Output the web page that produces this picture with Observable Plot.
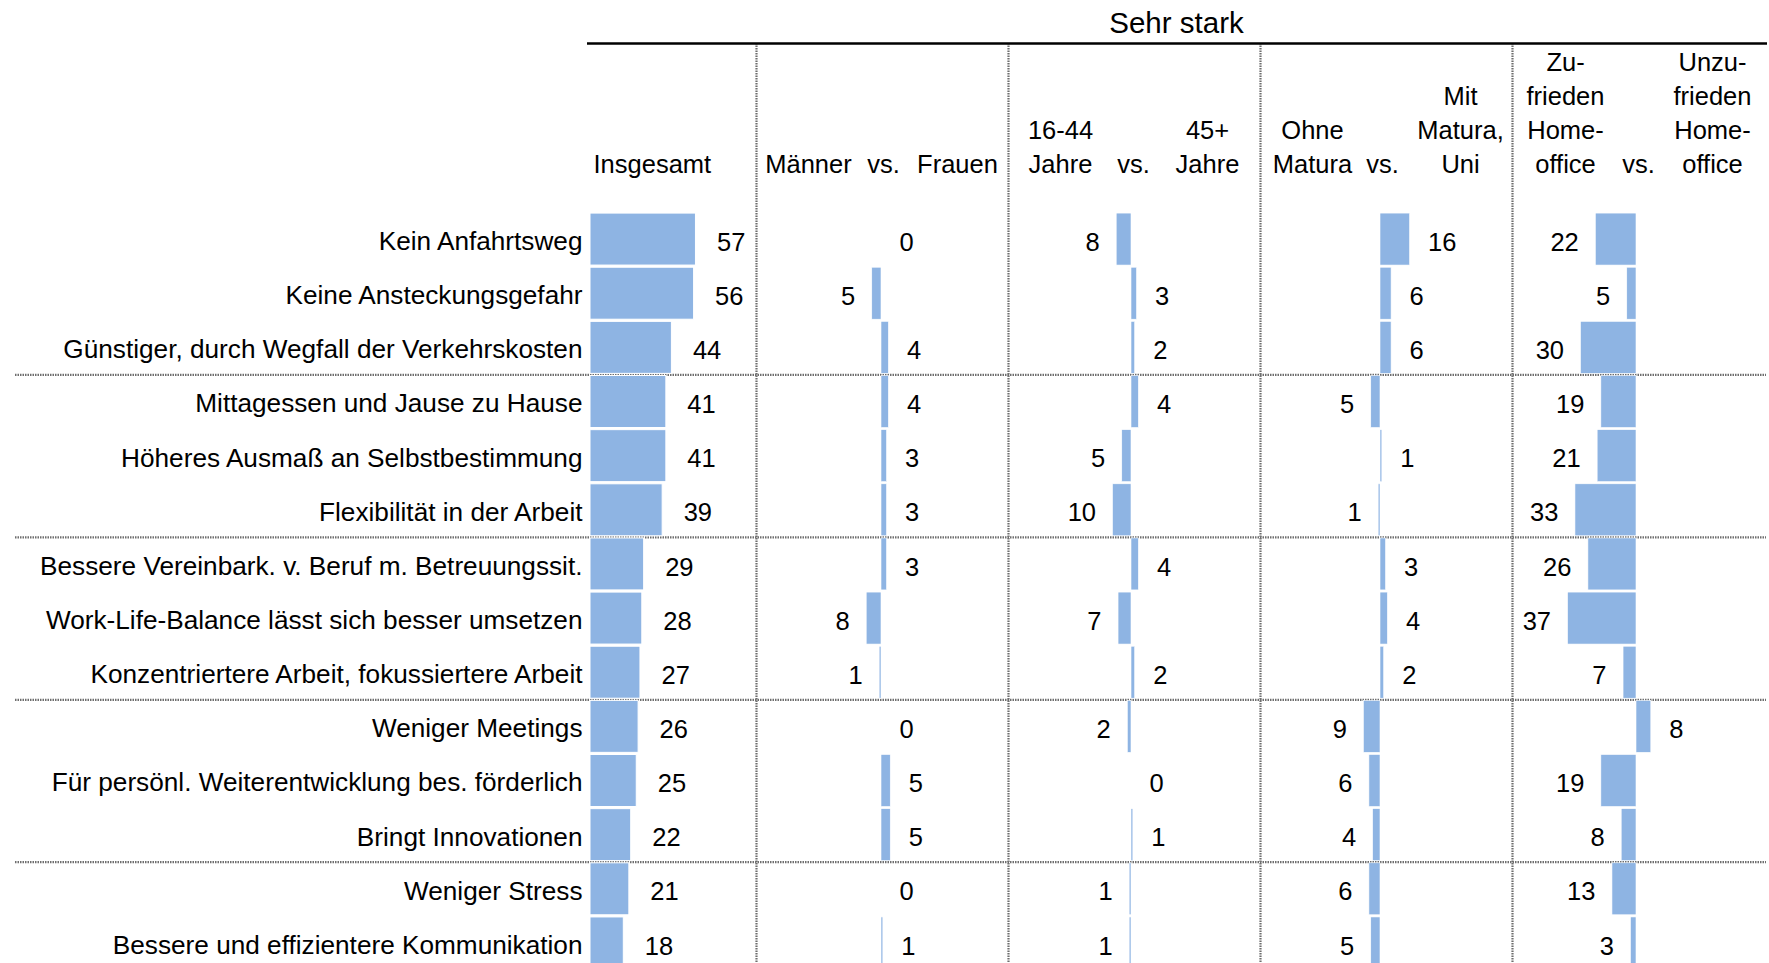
<!DOCTYPE html>
<html><head><meta charset="utf-8">
<script src="https://cdn.jsdelivr.net/npm/d3@7"></script>
<script src="https://cdn.jsdelivr.net/npm/@observablehq/plot@0.6"></script>
<style>
html,body{margin:0;padding:0;background:#fff;overflow:hidden}
#chart svg{display:block}
</style></head><body><div id="chart"></div>
<script>
// ---------- data ----------
const statements = [
  "Kein Anfahrtsweg",
  "Keine Ansteckungsgefahr",
  "Günstiger, durch Wegfall der Verkehrskosten",
  "Mittagessen und Jause zu Hause",
  "Höheres Ausmaß an Selbstbestimmung",
  "Flexibilität in der Arbeit",
  "Bessere Vereinbark. v. Beruf m. Betreuungssit.",
  "Work-Life-Balance lässt sich besser umsetzen",
  "Konzentriertere Arbeit, fokussiertere Arbeit",
  "Weniger Meetings",
  "Für persönl. Weiterentwicklung bes. förderlich",
  "Bringt Innovationen",
  "Weniger Stress",
  "Bessere und effizientere Kommunikation"
];
const insgesamt = [57, 56, 44, 41, 41, 39, 29, 28, 27, 26, 25, 22, 21, 18];
// differences: negative = first group higher (bar to the left), positive = second group higher
const maennerVsFrauen = [0, -5, 4, 4, 3, 3, 3, -8, -1, 0, 5, 5, 0, 1];
const jungVsAlt = [-8, 3, 2, 4, -5, -10, 4, -7, 2, -2, 0, 1, -1, -1];
const ohneVsMitMatura = [16, 6, 6, -5, 1, -1, 3, 4, 2, -9, -6, -4, -6, -5];
const zufriedenVsUnzufrieden = [-22, -5, -30, -19, -21, -33, -26, -37, -7, 8, -19, -8, -13, -3];
const groupStarts = [3, 6, 9, 12]; // rows that start a new block
const title = "Sehr stark";
const totalHeader = ["Insgesamt"];
const leftHeaders = [["Männer"], ["16-44", "Jahre"], ["Ohne", "Matura"], ["Zu-", "frieden", "Home-", "office"]];
const rightHeaders = [["Frauen"], ["45+", "Jahre"], ["Mit", "Matura,", "Uni"], ["Unzu-", "frieden", "Home-", "office"]];
const vsText = "vs.";

// ---------- layout (pixels) ----------
const W = 1769, H = 963;
const zeroPx = 590, pxPerPoint = 1.85;
const centersPx = [881, 1131, 1380, 1636];
const leftHeadPx = [808, 1060, 1312, 1565];
const rightHeadPx = [957, 1207, 1460, 1712];
const dividersPx = [756, 1008, 1260, 1512];
const rowTop = 212, rowBottom = 970;
const FONT = "'Liberation Sans', Arial, sans-serif";
const FS = 25.5;
const FS_ROW = 26.2;
const BLUE = "#8EB4E3";
const GRID = "#6e6e6e";

const px2u = p => (p - zeroPx) / pxPerPoint;
const step = (rowBottom - rowTop) / statements.length;
const py2u = p => (p - rowTop) / step - 0.5;

const series = [maennerVsFrauen, jungVsAlt, ohneVsMitMatura, zufriedenVsUnzufrieden];
const diffs = series.flatMap((vals, c) => vals.map((v, i) => ({c, i, v})));
const totals = insgesamt.map((v, i) => ({i, v}));
const centerU = centersPx.map(px2u);

const headerLines = (lines) => lines.join("\n");
const headerData = [
  {text: headerLines(totalHeader), x: px2u(593), anchor: "start"},
  ...leftHeaders.map((l, c) => ({text: headerLines(l), x: px2u(leftHeadPx[c]), anchor: "middle"})),
  ...rightHeaders.map((l, c) => ({text: headerLines(l), x: px2u(rightHeadPx[c]), anchor: "middle"})),
  ...centersPx.map(p => ({text: vsText, x: px2u(p + 2), anchor: "middle"}))
];

const chart = Plot.plot({
  width: W, height: H,
  marginTop: 0, marginBottom: 0, marginLeft: 0, marginRight: 0,
  style: {fontFamily: FONT, fontSize: FS + "px", color: "#000", background: "#fff"},
  x: {type: "linear", domain: [px2u(0), px2u(W)], range: [0, W], axis: null},
  y: {type: "linear", domain: [-0.5, statements.length - 0.5], range: [rowTop, rowBottom], axis: null},
  marks: [
    // block separators
    Plot.ruleY(groupStarts, {y: d => d - 0.5, x1: px2u(15), x2: px2u(1766), stroke: GRID, strokeWidth: 2.2, strokeDasharray: "1.5 1"}),
    // column dividers
    Plot.ruleX(dividersPx, {x: d => px2u(d), y1: py2u(43), y2: py2u(H + 20), stroke: GRID, strokeWidth: 2.2, strokeDasharray: "1.5 1"}),
    // top rule
    Plot.ruleY([py2u(43)], {x1: px2u(587), x2: px2u(1767), stroke: "#000", strokeWidth: 2.5}),
    // totals bars
    Plot.rect(totals, {x1: 0, x2: d => d.v, y1: d => d.i - 0.48, y2: d => d.i + 0.48, fill: BLUE, stroke: "#fff", strokeWidth: 1}),
    Plot.text(totals, {x: d => d.v, y: d => d.i, text: d => String(d.v), textAnchor: "start", dx: 21, dy: 3, fontSize: FS, fill: "#000"}),
    // difference bars
    Plot.rect(diffs, {x1: d => centerU[d.c], x2: d => centerU[d.c] + d.v, y1: d => d.i - 0.48, y2: d => d.i + 0.48, fill: BLUE, stroke: "#fff", strokeWidth: 0.6}),
    Plot.text(diffs.filter(d => d.v >= 0), {x: d => centerU[d.c] + d.v, y: d => d.i, text: d => String(Math.abs(d.v)), textAnchor: "start", dx: 18, dy: 3, fontSize: FS, fill: "#000"}),
    Plot.text(diffs.filter(d => d.v < 0), {x: d => centerU[d.c] + d.v, y: d => d.i, text: d => String(Math.abs(d.v)), textAnchor: "end", dx: -17, dy: 3, fontSize: FS, fill: "#000"}),
    // row labels
    Plot.text(statements, {x: px2u(582), y: (d, i) => i, text: d => d, textAnchor: "end", dy: 2, fontSize: FS_ROW, fill: "#000"}),
    // headers
    Plot.text(headerData.filter(d => d.anchor === "start"), {x: "x", y: py2u(172), text: "text", textAnchor: "start", lineAnchor: "bottom", lineHeight: 34 / FS, fontSize: FS, fill: "#000"}),
    Plot.text(headerData.filter(d => d.anchor === "middle"), {x: "x", y: py2u(172), text: "text", textAnchor: "middle", lineAnchor: "bottom", lineHeight: 34 / FS, fontSize: FS, fill: "#000"}),
    Plot.text([title], {x: px2u(1176), y: py2u(32), text: d => d, textAnchor: "middle", lineAnchor: "bottom", fontSize: 29.5, fill: "#000"})
  ]
});
document.getElementById("chart").appendChild(chart);
</script>
</body></html>
